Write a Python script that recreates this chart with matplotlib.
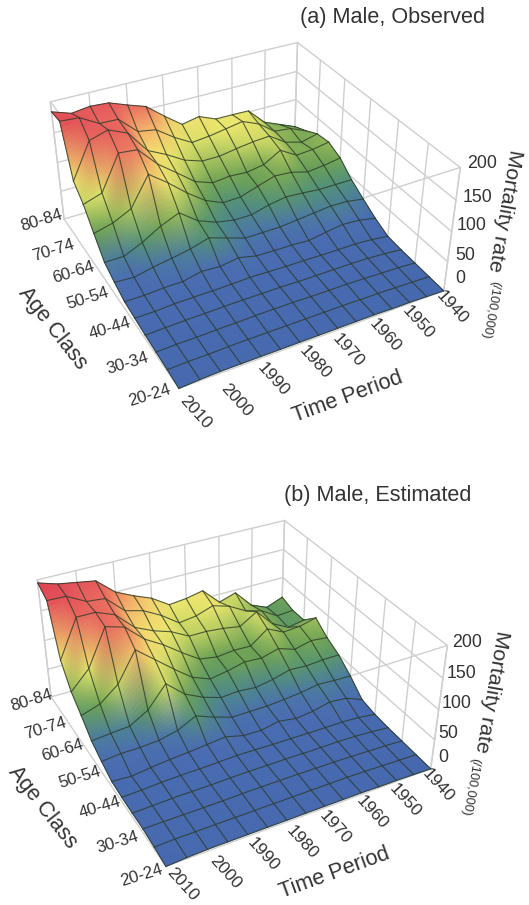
import numpy as np, matplotlib
matplotlib.use('Agg')
import matplotlib.pyplot as plt
from matplotlib.colors import LinearSegmentedColormap

ages = [20, 25, 30, 35, 40, 45, 50, 55, 60, 65, 70, 75, 80]
years = [2010, 2005, 2000, 1995, 1990, 1985, 1980, 1975, 1970, 1965, 1960, 1955, 1950, 1945, 1940]
age_labels = ['20-24', '30-34', '40-44', '50-54', '60-64', '70-74', '80-84']
age_ticks = [20, 30, 40, 50, 60, 70, 80]
year_ticks = [2010, 2000, 1990, 1980, 1970, 1960, 1950, 1940]
z_ticks = [0, 50, 100, 150, 200]

observed = [
    [0, 2, 3, 3, 3, 3, 3, 3, 3, 3, 3, 2, 2, 1, 0],
    [3, 4, 4, 5, 5, 5, 5, 5, 5, 5, 4, 4, 3, 2, 1],
    [5, 6, 6, 7, 7, 8, 8, 8, 7, 7, 7, 6, 5, 4, 2],
    [7, 8, 9, 9, 10, 10, 10, 10, 9, 9, 9, 9, 8, 6, 3],
    [10, 10, 12, 12, 12, 13, 14, 13, 12, 12, 11, 11, 11, 9, 5],
    [13, 13, 15, 15, 22, 20, 25, 18, 17, 17, 15, 20, 24, 22, 16],
    [22, 20, 27, 32, 38, 47, 37, 27, 27, 27, 30, 33, 36, 35, 30],
    [33, 33, 47, 65, 78, 55, 43, 37, 37, 45, 50, 48, 45, 45, 45],
    [60, 68, 83, 131, 108, 82, 60, 47, 48, 58, 67, 65, 57, 60, 65],
    [88, 98, 155, 152, 120, 97, 73, 62, 65, 63, 68, 85, 68, 70, 75],
    [107, 165, 174, 161, 124, 109, 91, 81, 81, 86, 90, 92, 73, 65, 72],
    [186, 184, 167, 166, 138, 133, 112, 95, 98, 103, 108, 96, 75, 72, 60],
    [184, 174, 178, 176, 165, 155, 131, 109, 115, 103, 103, 102, 74, 62, 50],
]
estimated = [
    [0, 2, 3, 3, 3, 3, 3, 3, 3, 3, 3, 2, 2, 1, 0],
    [4, 5, 5, 5, 5, 5, 5, 5, 5, 5, 5, 4, 3, 2, 1],
    [7, 7, 7, 7, 7, 8, 8, 8, 8, 7, 7, 6, 5, 4, 2],
    [7, 8, 9, 9, 9, 10, 10, 10, 10, 9, 9, 9, 8, 6, 3],
    [8, 9, 11, 12, 12, 13, 14, 13, 12, 12, 11, 11, 11, 9, 5],
    [10, 8, 12, 15, 17, 20, 23, 15, 14, 20, 15, 18, 25, 22, 10],
    [20, 23, 23, 25, 32, 47, 35, 25, 25, 25, 27, 30, 35, 33, 32],
    [32, 35, 37, 55, 90, 63, 48, 38, 40, 37, 42, 50, 48, 50, 50],
    [53, 63, 87, 135, 110, 85, 62, 50, 55, 62, 60, 68, 58, 65, 62],
    [72, 102, 162, 153, 125, 107, 85, 65, 60, 63, 62, 84, 70, 72, 79],
    [105, 167, 167, 155, 126, 112, 102, 86, 86, 83, 78, 96, 67, 52, 57],
    [184, 183, 167, 164, 136, 128, 112, 91, 95, 105, 96, 80, 72, 55, 57],
    [195, 186, 181, 176, 150, 136, 124, 105, 108, 114, 86, 95, 65, 53, 64],
]

W_FIG, H_FIG = 529, 905
ELEV, AZIM, FOCAL, AX_A, AX_B = 34.053, 151.937, 0.463, 2.027, 1.996
AX_W = 424.1
cmap = LinearSegmentedColormap.from_list('m', [
    (0.00, '#4568ae'), (0.10, '#4a6cb2'), (0.15, '#4a78a4'), (0.22, '#50907c'),
    (0.30, '#6aa054'), (0.38, '#94b85a'), (0.45, '#cfda64'), (0.52, '#ece86e'),
    (0.62, '#f4d870'), (0.70, '#f4a868'), (0.78, '#ec7460'), (0.90, '#e4545c'),
    (1.00, '#dc3c4a')])
GRID = '#cfcfcf'
MESH = '#2c3a28'
TXT = '#333333'
SUB = 10
plt.rcParams['font.family'] = ['Liberation Sans', 'DejaVu Sans']


def refine(F):
    ni, nj = F.shape
    u = np.linspace(0, ni - 1, (ni - 1) * SUB + 1)
    v = np.linspace(0, nj - 1, (nj - 1) * SUB + 1)
    tmp = np.array([np.interp(v, np.arange(nj), F[i]) for i in range(ni)])
    return u, v, np.array([np.interp(u, np.arange(ni), tmp[:, k]) for k in range(len(v))]).T


def panel(Z, left, bottom, title, tpos, age_pos, year_pos, z_pos, age_t, time_t, mort_t, unit_t):
    Z = np.array(Z, float)
    ax = fig.add_axes([left / W_FIG, bottom / H_FIG, AX_W / W_FIG, AX_W / H_FIG], projection='3d',
                      computed_zorder=False)
    ax.set_proj_type('persp', focal_length=FOCAL)
    ax.view_init(ELEV, AZIM)
    ax.set_box_aspect((AX_A, AX_B, 1.0))
    ax.set_axis_off()
    ax.set_facecolor('none')
    a0, a1, y0, y1, z0, z1 = 20, 80, 1940, 2010, 0, 200

    def ln(xs, ys, zs, zo=1, c=GRID, lw=1.0):
        ax.plot(xs, ys, zs, color=c, lw=lw, zorder=zo, clip_on=False, solid_capstyle='round')

    for yr in year_ticks:
        ln([a1, a1], [yr, yr], [z0, z1])
    for ag in age_ticks:
        ln([ag, ag], [y0, y0], [z0, z1])
    for zz in z_ticks:
        ln([a1, a1], [y0, y1], [zz, zz])
        ln([a0, a1], [y0, y0], [zz, zz])
    ln([a0, a1], [y1, y1], [z0, z0]); ln([a0, a0], [y0, y1], [z0, z0])
    ln([a1, a1], [y1, y1], [z0, z1]); ln([a0, a0], [y0, y0], [z0, z1])
    ln([a0, a1], [y1, y1], [z1, z1]); ln([a0, a0], [y0, y1], [z1, z1])

    u, v, ZZ = refine(Z)
    node_rgb = cmap(Z / 200.0)
    rgb = np.stack([refine(node_rgb[..., c])[2] for c in range(3)], axis=-1)
    cell = 0.25 * (rgb[:-1, :-1] + rgb[1:, :-1] + rgb[:-1, 1:] + rgb[1:, 1:])
    rgba = np.concatenate([cell, np.ones(cell.shape[:2] + (1,))], axis=-1)
    A = np.interp(u, np.arange(len(ages)), ages)
    Y = np.interp(v, np.arange(len(years)), years)
    YY, AA = np.meshgrid(Y, A)

    n = len(ages)
    for s in range(n - 2, -1, -1):   # back strips first
        a, b = s * SUB, (s + 1) * SUB + 1
        zo = 10 + 2 * (n - 2 - s)
        ax.plot_surface(AA[a:b], YY[a:b], ZZ[a:b], facecolors=rgba[a:b - 1], rstride=1, cstride=1,
                        shade=False, linewidth=0.5, antialiased=True, zorder=zo)
        for j in range(len(years)):
            ax.plot(A[a:b], np.full(b - a, years[j]), ZZ[a:b, j * SUB], color=MESH, lw=0.8,
                    zorder=zo + 0.5, alpha=0.8, clip_on=False)
        ax.plot(np.full(len(Y), ages[s + 1]), Y, ZZ[(s + 1) * SUB], color=MESH, lw=0.8,
                zorder=zo + 0.5, alpha=0.8, clip_on=False)
        if s == 0:
            ax.plot(np.full(len(Y), ages[0]), Y, ZZ[0], color=MESH, lw=0.8,
                    zorder=zo + 0.6, alpha=0.8, clip_on=False)
    ax.set_xlim(a0, a1); ax.set_ylim(y0, y1); ax.set_zlim(z0, z1)

    def t(pos, s, size, rot=0):
        fig.text(pos[0] / W_FIG, 1 - pos[1] / H_FIG, s, fontsize=size, rotation=rot, rotation_mode='anchor',
                 ha='center', va='center', color=TXT)

    t(tpos, title, 15.6)
    for p, s in zip(age_pos, age_labels):
        t(p, s, 12.2, 17)
    for p, s in zip(year_pos, year_ticks):
        t(p, str(s), 12.6, -48)
    for p, s in zip(z_pos, z_ticks):
        t(p, str(s), 12.8)
    t(age_t, 'Age Class', 15.6, -52)
    t(time_t, 'Time Period', 15.6, 20)
    t(mort_t, 'Mortality rate', 15.4, -100)
    t(unit_t, '(/100,000)', 9.2, -100)


fig = plt.figure(figsize=(W_FIG / 100, H_FIG / 100), dpi=100)
panel(observed, 27.31, 491.8, '(a) Male, Observed', (393, 17),
      [(150, 395), (128, 363), (110, 328), (88, 298), (73, 272), (53, 250), (42, 220)],
      [(195, 412), (236, 400), (273, 380), (315, 362), (348, 350), (385, 335), (418, 322), (452, 307)],
      [(460, 278), (465, 255), (472, 225), (477, 197), (482, 164)],
      (53, 328), (348, 397), (505, 211), (490, 310))
panel(estimated, 14.31, 13.8, '(b) Male, Estimated', (378, 496),
      [(142, 875), (118, 842), (100, 807), (80, 777), (62, 750), (45, 728), (32, 700)],
      [(182, 884), (225, 872), (263, 855), (302, 842), (335, 827), (372, 812), (405, 800), (438, 785)],
      [(443, 757), (448, 733), (457, 703), (462, 673), (467, 642)],
      (43, 807), (335, 873), (492, 692), (470, 787))
fig.savefig('out.png', dpi=100)
